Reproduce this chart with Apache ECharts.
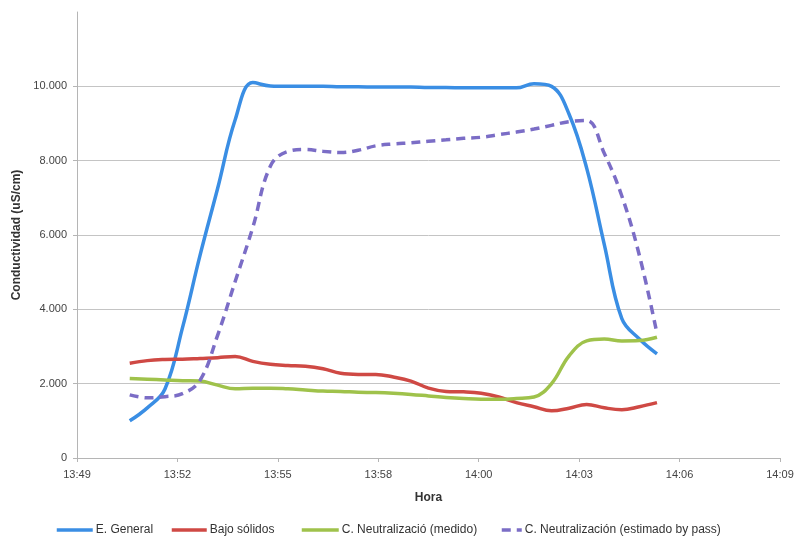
<!DOCTYPE html>
<html>
<head>
<meta charset="utf-8">
<script src="https://cdn.jsdelivr.net/npm/echarts@6/dist/echarts.min.js"></script>
<style>
  html, body { margin: 0; padding: 0; background: #ffffff; }
  #chart { width: 807px; height: 558px; }
</style>
</head>
<body>
<div id="chart"></div>
<script>
// Sampling times (every 30 s)
const times = [
  '13:50:30','13:51:00','13:51:30','13:52:00','13:52:30','13:53:00','13:53:30','13:54:00',
  '13:54:30','13:55:00','13:55:30','13:56:00','13:56:30','13:57:00','13:57:30','13:58:00',
  '13:58:30','13:59:00','13:59:30','14:00:00','14:00:30','14:01:00','14:01:30','14:02:00',
  '14:02:30','14:03:00','14:03:30','14:04:00','14:04:30','14:05:00','14:05:30'
];

// Conductivity readings (uS/cm)
const eGeneral = [
  1000, 1350, 1850, 3500, 5450, 7250, 9100, 10100,
  10010, 10000, 10000, 10000, 9990, 9990, 9980, 9980,
  9980, 9970, 9970, 9960, 9960, 9960, 9960, 10070,
  10000, 9250, 7800, 5750, 3750, 3200, 2800
];
const bajoSolidos = [
  2550, 2620, 2650, 2660, 2680, 2700, 2730, 2600,
  2520, 2490, 2470, 2400, 2280, 2250, 2250, 2180,
  2070, 1880, 1790, 1780, 1740, 1640, 1490, 1380,
  1270, 1340, 1440, 1350, 1300, 1380, 1490
];
const neutralMedido = [
  2140, 2120, 2100, 2080, 2070, 1960, 1860, 1880,
  1880, 1860, 1830, 1800, 1790, 1770, 1760, 1740,
  1710, 1670, 1630, 1600, 1580, 1580, 1600, 1640,
  2000, 2750, 3150, 3200, 3150, 3160, 3250
];
const neutralEstimado = [
  1700, 1620, 1650, 1730, 2090, 3300, 4750, 6200,
  7850, 8250, 8300, 8250, 8220, 8280, 8400, 8450,
  8480, 8520, 8560, 8600, 8630, 8700, 8770, 8850,
  8950, 9050, 9080, 8200, 7050, 5450, 3350
];

const seriesNames = [
  'E. General',
  'Bajo sólidos',
  'C. Neutralizació (medido)',
  'C. Neutralización (estimado by pass)'
];

const xTickLabels = ['13:49', '13:52', '13:55', '13:58', '14:00', '14:03', '14:06', '14:09'];
const yTickLabels = ['0', '2.000', '4.000', '6.000', '8.000', '10.000'];

// Axis origin 13:49:00; x values are seconds after it
const startSec = 13 * 3600 + 49 * 60;
function toSec(t) {
  const p = t.split(':').map(Number);
  return p[0] * 3600 + p[1] * 60 + p[2] - startSec;
}
const xSpan = 1200;
const xStep = xSpan / (xTickLabels.length - 1);
const yStep = 2000;

function pairs(values) {
  return values.map((v, i) => [toSec(times[i]), v]);
}

const colors = ['#3a8ee4', '#cf4944', '#9fc24b', '#7b6dc6'];
const font = 'Liberation Sans, Arial, sans-serif';

const chart = echarts.init(document.getElementById('chart'), null, { renderer: 'canvas' });

function lineSeries(name, values, color, dashed) {
  return {
    name: name,
    type: 'line',
    data: pairs(values),
    smooth: 0.4,
    symbol: 'none',
    showSymbol: false,
    lineStyle: { color: color, width: 3.5, type: dashed ? [9, 6] : 'solid', cap: 'butt' },
    itemStyle: { color: color },
    emphasis: { disabled: true },
    z: dashed ? 4 : 3
  };
}

// One legend block per series so each entry sits at its own spot
function legendAt(name, left, width) {
  return {
    data: [name],
    left: left,
    top: 524,
    padding: 0,
    itemWidth: width,
    itemHeight: 12,
    itemGap: 3,
    itemStyle: { color: 'rgba(0,0,0,0)', borderWidth: 0, opacity: 0 },
    lineStyle: { width: 3.5 },
    textStyle: { fontFamily: font, fontSize: 12, color: '#333', padding: [0, 0, 0, -2] },
    selectedMode: false
  };
}

chart.setOption({
  animation: false,
  backgroundColor: '#ffffff',
  color: colors,
  grid: { left: 77, right: 27, top: 12, bottom: 100, containLabel: false },
  legend: [
    legendAt(seriesNames[0], 55, 36),
    legendAt(seriesNames[1], 170, 35),
    legendAt(seriesNames[2], 300, 37),
    legendAt(seriesNames[3], 500, 20)
  ],
  xAxis: {
    type: 'value',
    min: 0,
    max: xSpan,
    interval: xStep,
    name: 'Hora',
    nameLocation: 'middle',
    nameGap: 34,
    nameTextStyle: { fontFamily: font, fontSize: 12, fontWeight: 'bold', color: '#333' },
    axisLine: { show: true, lineStyle: { color: '#b5b5b5', width: 1 } },
    axisTick: { show: true, length: 4, lineStyle: { color: '#b5b5b5' } },
    axisLabel: {
      fontFamily: font, fontSize: 11, color: '#444', margin: 11,
      formatter: function (v) { return xTickLabels[Math.round(v / xStep)] || ''; }
    },
    splitLine: { show: false }
  },
  yAxis: {
    type: 'value',
    min: 0,
    max: 12000,
    interval: yStep,
    name: 'Conductividad (uS/cm)',
    nameLocation: 'middle',
    nameGap: 53,
    nameRotate: 90,
    nameTextStyle: { fontFamily: font, fontSize: 12, fontWeight: 'bold', color: '#333' },
    axisLine: { show: true, lineStyle: { color: '#b5b5b5', width: 1 } },
    axisTick: { show: true, length: 4, lineStyle: { color: '#b5b5b5' } },
    axisLabel: {
      fontFamily: font, fontSize: 11, color: '#444', margin: 10,
      showMaxLabel: false,
      formatter: function (v) { return yTickLabels[Math.round(v / yStep)] || ''; }
    },
    splitLine: { show: true, showMaxLine: false, lineStyle: { color: '#c4c4c4', width: 1 } }
  },
  series: [
    lineSeries(seriesNames[0], eGeneral, colors[0], false),
    lineSeries(seriesNames[1], bajoSolidos, colors[1], false),
    lineSeries(seriesNames[2], neutralMedido, colors[2], false),
    lineSeries(seriesNames[3], neutralEstimado, colors[3], true)
  ]
});
</script>
</body>
</html>
